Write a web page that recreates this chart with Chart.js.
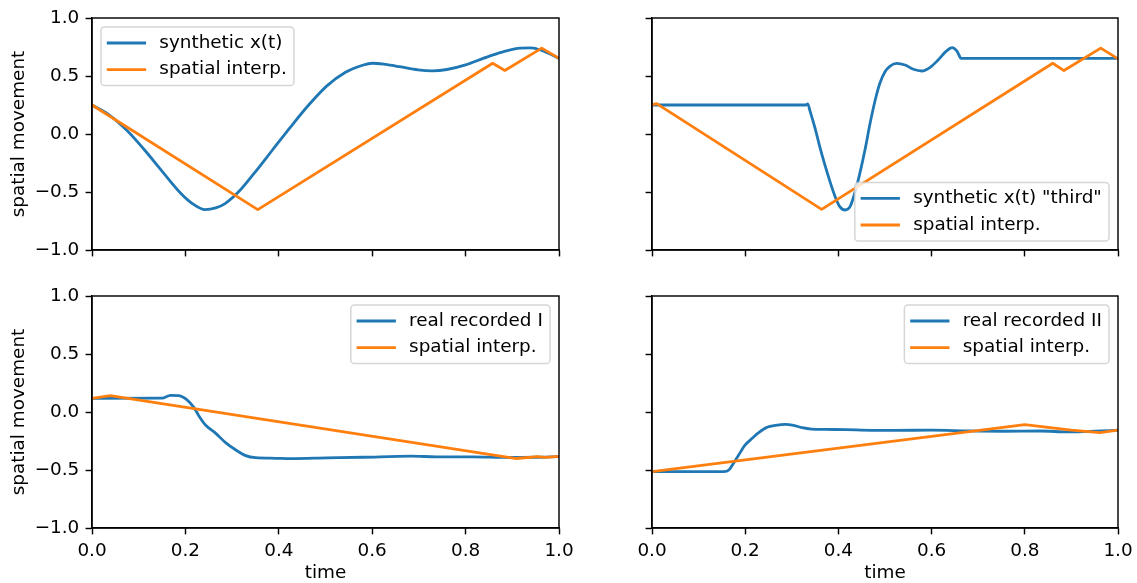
<!DOCTYPE html>
<html>
<head>
<meta charset="utf-8">
<title>spatial movement</title>
<script src="https://cdn.jsdelivr.net/npm/chart.js@4.4.0/dist/chart.umd.min.js"></script>
<style>
  body { margin: 0; background: #fff; width: 1137px; height: 583px; overflow: hidden; position: relative; }
  canvas { position: absolute; }
</style>
</head>
<body>
<canvas id="c1" width="600" height="273" style="left:0px;top:0px"></canvas>
<canvas id="c2" width="567" height="273" style="left:570px;top:0px"></canvas>
<canvas id="c3" width="600" height="310" style="left:0px;top:273px"></canvas>
<canvas id="c4" width="567" height="310" style="left:570px;top:273px"></canvas>
<script>
var timeTicks = [0, 0.2, 0.4, 0.6, 0.8, 1.0];
var moveTicks = [-1, -0.5, 0, 0.5, 1];

// synthetic x(t)
var synthT = [0, 0.035, 0.075, 0.113, 0.152, 0.191, 0.215, 0.242, 0.265, 0.285, 0.316, 0.347, 0.386, 0.425, 0.464, 0.503, 0.542, 0.581, 0.600, 0.628, 0.659, 0.698, 0.729, 0.760, 0.800, 0.839, 0.878, 0.917, 0.940, 0.963, 1.0];
var synthX = [0.25, 0.17, 0.03, -0.14, -0.33, -0.515, -0.60, -0.652, -0.637, -0.60, -0.49, -0.34, -0.14, 0.06, 0.25, 0.415, 0.53, 0.595, 0.61, 0.60, 0.58, 0.553, 0.545, 0.556, 0.596, 0.654, 0.706, 0.74, 0.742, 0.72, 0.652];
var interpT1 = [0, 0.355, 0.858, 0.884, 0.963, 1.0];
var interpX1 = [0.25, -0.652, 0.61, 0.548, 0.74, 0.652];

// synthetic x(t) "third"
var thirdT = [0, 0.33, 0.334, 0.339, 0.350, 0.360, 0.371, 0.382, 0.393, 0.403, 0.414, 0.425, 0.436, 0.446, 0.457, 0.468, 0.479, 0.489, 0.500, 0.511, 0.525, 0.543, 0.561, 0.579, 0.597, 0.614, 0.632, 0.644, 0.654, 0.660, 0.663, 1.0];
var thirdX = [0.25, 0.25, 0.26, 0.2, 0.049, -0.109, -0.267, -0.411, -0.54, -0.626, -0.655, -0.626, -0.497, -0.339, -0.138, 0.092, 0.293, 0.437, 0.537, 0.586, 0.609, 0.595, 0.558, 0.543, 0.575, 0.638, 0.716, 0.744, 0.716, 0.67, 0.652, 0.652];
var interpT2 = [0, 0.01, 0.364, 0.86, 0.884, 0.963, 1.0];
var interpX2 = [0.25, 0.262, -0.65, 0.61, 0.547, 0.74, 0.648];

// real recorded I
var recT1 = [0, 0.15, 0.168, 0.186, 0.204, 0.218, 0.229, 0.243, 0.265, 0.286, 0.308, 0.329, 0.35, 0.393, 0.425, 0.503, 0.581, 0.683, 0.737, 0.815, 0.893, 0.95, 1.0];
var recX1 = [0.118, 0.12, 0.144, 0.141, 0.103, 0.04, -0.034, -0.112, -0.184, -0.264, -0.328, -0.376, -0.394, -0.399, -0.402, -0.396, -0.39, -0.381, -0.386, -0.387, -0.392, -0.39, -0.384];
var interpT3 = [0, 0.039, 0.909, 0.954, 0.97, 1.0];
var interpX3 = [0.118, 0.141, -0.401, -0.384, -0.392, -0.382];

// real recorded II
var recT2 = [0, 0.154, 0.165, 0.175, 0.186, 0.2, 0.215, 0.229, 0.247, 0.265, 0.286, 0.304, 0.322, 0.343, 0.372, 0.415, 0.472, 0.522, 0.60, 0.678, 0.755, 0.833, 0.895, 0.95, 1.0];
var recX2 = [-0.514, -0.514, -0.5, -0.442, -0.371, -0.284, -0.227, -0.178, -0.132, -0.115, -0.106, -0.115, -0.135, -0.147, -0.15, -0.152, -0.158, -0.158, -0.157, -0.163, -0.166, -0.164, -0.172, -0.166, -0.157];
var interpT4 = [0, 0.8, 0.9, 0.961, 1.0];
var interpX4 = [-0.514, -0.108, -0.157, -0.177, -0.157];

var BLUE = '#1f77b4';
var ORANGE = '#ff7f0e';
var FS = 18.4;

Chart.defaults.font.family = '"DejaVu Sans", sans-serif';
Chart.defaults.font.size = FS;
Chart.defaults.color = '#000';

function points(ts, xs) {
    return ts.map(function (t, i) { return { x: t, y: xs[i] }; });
}

function fmtTick(v) {
    var s = Math.abs(v).toFixed(1);
    return v < 0 ? '\u2212' + s : s;
}

// full box round the plot area, matplotlib style
var frame = {
    id: 'frame',
    afterDatasetsDraw: function (chart) {
        var a = chart.chartArea, ctx = chart.ctx;
        ctx.save();
        ctx.strokeStyle = '#000';
        ctx.lineWidth = 1.44;
        ctx.strokeRect(a.left, a.top, a.right - a.left, a.bottom - a.top);
        ctx.restore();
    }
};

// legend drawn inside the plot area
var boxLegend = {
    id: 'boxLegend',
    afterDatasetsDraw: function (chart, args, opts) {
        var ctx = chart.ctx, a = chart.chartArea;
        var sets = chart.data.datasets;
        ctx.save();
        ctx.font = FS + 'px "DejaVu Sans"';
        var textW = 0;
        sets.forEach(function (ds) { textW = Math.max(textW, ctx.measureText(ds.label).width); });
        var pad = 7.2, handle = 36.5, gap = 14.6, rowH = 17.6, spacing = 9, margin = 9;
        var w = pad + handle + gap + textW + pad;
        var h = pad * 2 + rowH * sets.length + spacing * (sets.length - 1);
        var x = opts.corner === 'ul' ? a.left + margin : a.right - margin - w;
        var y = opts.corner === 'lr' ? a.bottom - margin - h : a.top + margin;
        ctx.beginPath();
        ctx.roundRect(x, y, w, h, 3.6);
        ctx.fillStyle = 'rgba(255,255,255,0.8)';
        ctx.fill();
        ctx.lineWidth = 1.5;
        ctx.strokeStyle = 'rgba(204,204,204,0.8)';
        ctx.stroke();
        sets.forEach(function (ds, i) {
            var cy = y + pad + rowH / 2 + i * (rowH + spacing);
            ctx.beginPath();
            ctx.lineWidth = 2.8;
            ctx.lineCap = 'square';
            ctx.strokeStyle = ds.borderColor;
            ctx.moveTo(x + pad, cy);
            ctx.lineTo(x + pad + handle, cy);
            ctx.stroke();
            ctx.fillStyle = '#000';
            ctx.textBaseline = 'middle';
            ctx.textAlign = 'left';
            ctx.fillText(ds.label, x + pad + handle + gap, cy);
        });
        ctx.restore();
    }
};

function makePanel(id, cfg) {
    var datasets = [
        {
            label: cfg.label,
            data: points(cfg.t, cfg.v),
            borderColor: BLUE,
            borderWidth: 2.8,
            pointRadius: 0,
            cubicInterpolationMode: 'monotone',
            borderJoinStyle: 'round',
            order: 1
        },
        {
            label: 'spatial interp.',
            data: points(cfg.it, cfg.iv),
            borderColor: ORANGE,
            borderWidth: 2.8,
            pointRadius: 0,
            tension: 0,
            borderJoinStyle: 'round',
            order: 0
        }
    ];

    var tickGrid = { drawOnChartArea: false, drawTicks: true, tickLength: 6.4, tickColor: '#000', tickWidth: 1.44 };
    var axisBorder = { display: true, color: '#000', width: 1.44 };

    return new Chart(document.getElementById(id), {
        type: 'line',
        data: { datasets: datasets },
        plugins: [frame, boxLegend],
        options: {
            responsive: false,
            animation: false,
            events: [],
            layout: { padding: { left: 0, top: cfg.padTop, right: cfg.padRight, bottom: 0 } },
            plugins: {
                legend: { display: false },
                tooltip: { enabled: false },
                boxLegend: { corner: cfg.corner }
            },
            scales: {
                x: {
                    type: 'linear',
                    min: 0,
                    max: 1,
                    afterBuildTicks: function (s) { s.ticks = timeTicks.map(function (v) { return { value: v }; }); },
                    ticks: { display: cfg.showX, padding: 6, callback: fmtTick, maxRotation: 0, autoSkip: false },
                    grid: tickGrid,
                    border: axisBorder,
                    title: { display: cfg.showX, text: 'time', padding: { top: 0, bottom: -1.5 } },
                    afterFit: function (s) { s.height = cfg.xHeight; s.paddingLeft = 0; s.paddingRight = 0; }
                },
                y: {
                    type: 'linear',
                    min: -1,
                    max: 1,
                    afterBuildTicks: function (s) { s.ticks = moveTicks.map(function (v) { return { value: v }; }); },
                    ticks: { display: cfg.showY, padding: 6.3, callback: fmtTick, autoSkip: false },
                    grid: tickGrid,
                    border: axisBorder,
                    title: { display: cfg.showY, text: 'spatial movement', padding: { top: 8, bottom: 0 } },
                    afterFit: function (s) { s.width = cfg.yWidth; s.paddingTop = 0; s.paddingBottom = 0; }
                }
            }
        }
    });
}

makePanel('c1', { label: 'synthetic x(t)', t: synthT, v: synthX, it: interpT1, iv: interpX1,
    corner: 'ul', showX: false, showY: true, padTop: 18, padRight: 41, yWidth: 92, xHeight: 23 });
makePanel('c2', { label: 'synthetic x(t) "third"', t: thirdT, v: thirdX, it: interpT2, iv: interpX2,
    corner: 'lr', showX: false, showY: false, padTop: 18, padRight: 19, yWidth: 82, xHeight: 23 });
makePanel('c3', { label: 'real recorded I', t: recT1, v: recX1, it: interpT3, iv: interpX3,
    corner: 'ur', showX: true, showY: true, padTop: 23, padRight: 41, yWidth: 92, xHeight: 55 });
makePanel('c4', { label: 'real recorded II', t: recT2, v: recX2, it: interpT4, iv: interpX4,
    corner: 'ur', showX: true, showY: false, padTop: 23, padRight: 19, yWidth: 82, xHeight: 55 });
</script>
</body>
</html>
